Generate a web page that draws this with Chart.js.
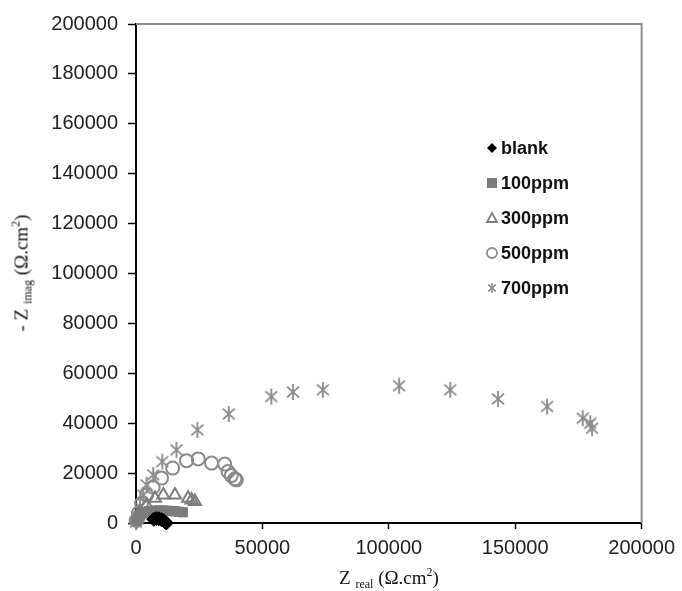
<!DOCTYPE html>
<html>
<head>
<meta charset="utf-8">
<script src="https://cdn.jsdelivr.net/npm/chart.js@4.4.1/dist/chart.umd.min.js"></script>
<style>
  body { margin: 0; background: #fff; }
  #wrap { position: relative; width: 682px; height: 591px; }
  .ttl { position: absolute; font-family: "Liberation Serif", "Times New Roman", serif; font-size: 19px; color: #111; white-space: nowrap; }
  .ttl sub { font-size: 12px; vertical-align: -4px; }
  .ttl sup { font-size: 12px; vertical-align: 8px; }
  #xTitle { left: 389px; top: 565px; transform: translateX(-50%); }
  #yTitle { left: 22px; top: 273px; transform: translate(-50%, -50%) rotate(-90deg); }
</style>
</head>
<body>
<div id="wrap">
  <canvas id="chart" width="682" height="591"></canvas>
  <div class="ttl" id="xTitle">Z <sub>real</sub> (Ω.cm<sup>2</sup>)</div>
  <div class="ttl" id="yTitle">- Z <sub>imag</sub> (Ω.cm<sup>2</sup>)</div>
</div>
<script>
// series labels
const seriesNames = ['blank', '100ppm', '300ppm', '500ppm', '700ppm'];

// blank
const blankX = [7000, 8000, 9000, 10000, 11000, 11500, 12000];
const blankY = [1500, 1800, 1700, 1400, 900, 400, 0];

// 100ppm
const p100X = [300, 800, 1500, 2500, 3500, 5000, 6500, 8000, 9500, 11000, 12500, 14000, 15500, 17000, 18500];
const p100Y = [800, 2000, 3000, 3800, 4300, 4700, 4900, 5000, 5000, 5000, 4900, 4800, 4700, 4500, 4300];

// 300ppm
const p300X = [200, 800, 1800, 4200, 7500, 10800, 15400, 20600, 22000, 23300];
const p300Y = [1200, 2800, 4500, 7200, 9900, 11200, 11200, 9900, 9200, 8600];

// 500ppm
const p500X = [100, 900, 2200, 4200, 6800, 10100, 14500, 20000, 24600, 29900, 35100, 36400, 37700, 39100, 39700];
const p500Y = [1000, 3900, 7900, 11200, 14300, 18000, 22000, 25000, 25700, 24000, 23600, 20600, 19000, 17700, 17300];

// 700ppm
const p700X = [0, 900, 1600, 2900, 4200, 6800, 10400, 16000, 24300, 36700, 53500, 62100, 73900, 104100, 124300, 143200, 162600, 176700, 179700, 180400];
const p700Y = [300, 2500, 6500, 11200, 15300, 19300, 24600, 29300, 37300, 43700, 50700, 52500, 53400, 55000, 53400, 49700, 46700, 42000, 40000, 38000];

// axis ticks
const xTicks = [0, 50000, 100000, 150000, 200000];
const yTicks = [0, 20000, 40000, 60000, 80000, 100000, 120000, 140000, 160000, 180000, 200000];

function pts(xs, ys) {
    return xs.map((x, i) => ({ x, y: ys[i] }));
}

// asterisk marker (vertical bar + X), drawn once to a small canvas
function makeStar(size, color, lw) {
    const c = document.createElement('canvas');
    c.width = size; c.height = size;
    const g = c.getContext('2d');
    g.strokeStyle = color;
    g.lineWidth = lw;
    const m = size / 2, r = size / 2 - 1;
    [90, 42, 138].forEach(a => {
        const dx = r * Math.cos(a * Math.PI / 180), dy = r * Math.sin(a * Math.PI / 180);
        g.beginPath();
        g.moveTo(m - dx, m - dy);
        g.lineTo(m + dx, m + dy);
        g.stroke();
    });
    return c;
}

const starBig = makeStar(18, '#8a8a8a', 1.8);
const starSmall = makeStar(12, '#8a8a8a', 1.5);

const styles = [
    { pointStyle: 'rectRot', radius: 7, bg: '#000', border: '#000', bw: 1 },
    { pointStyle: 'rect', radius: 6.5, bg: '#7b7b7b', border: '#7b7b7b', bw: 1 },
    { pointStyle: 'triangle', radius: 7, bg: 'rgba(0,0,0,0)', border: '#7d7d7d', bw: 2 },
    { pointStyle: 'circle', radius: 6.5, bg: 'rgba(0,0,0,0)', border: '#8a8a8a', bw: 2 },
    { pointStyle: starBig, radius: 9, bg: '#8a8a8a', border: '#8a8a8a', bw: 2 },
];

const allData = [pts(blankX, blankY), pts(p100X, p100Y), pts(p300X, p300Y), pts(p500X, p500Y), pts(p700X, p700Y)];

const datasets = allData.map((d, i) => ({
    label: seriesNames[i],
    data: d,
    pointStyle: styles[i].pointStyle,
    pointRadius: styles[i].radius,
    pointBackgroundColor: styles[i].bg,
    pointBorderColor: styles[i].border,
    pointBorderWidth: styles[i].bw,
    showLine: false,
    clip: false,
    order: i + 1,
}));

// gray frame on top and right
const framePlugin = {
    id: 'frame',
    beforeDatasetsDraw(chart) {
        const { ctx, chartArea: a } = chart;
        ctx.save();
        ctx.strokeStyle = '#8c8c8c';
        ctx.lineWidth = 2;
        ctx.beginPath();
        ctx.moveTo(a.left, a.top);
        ctx.lineTo(a.right, a.top);
        ctx.lineTo(a.right, a.bottom);
        ctx.stroke();
        ctx.restore();
    },
};

// legend inside the plot
function drawMarker(ctx, kind, x, y) {
    ctx.save();
    if (kind === 0) {
        ctx.fillStyle = '#000';
        ctx.beginPath();
        ctx.moveTo(x, y - 5); ctx.lineTo(x + 5, y); ctx.lineTo(x, y + 5); ctx.lineTo(x - 5, y);
        ctx.closePath(); ctx.fill();
    } else if (kind === 1) {
        ctx.fillStyle = '#7b7b7b';
        ctx.fillRect(x - 5, y - 5, 10, 10);
    } else if (kind === 2) {
        ctx.strokeStyle = '#7d7d7d'; ctx.lineWidth = 1.8;
        ctx.beginPath();
        ctx.moveTo(x, y - 5); ctx.lineTo(x + 5, y + 4); ctx.lineTo(x - 5, y + 4);
        ctx.closePath(); ctx.stroke();
    } else if (kind === 3) {
        ctx.strokeStyle = '#8a8a8a'; ctx.lineWidth = 1.8;
        ctx.beginPath(); ctx.arc(x, y, 5, 0, Math.PI * 2); ctx.stroke();
    } else {
        ctx.drawImage(starSmall, x - 6, y - 6);
    }
    ctx.restore();
}

const legendPlugin = {
    id: 'insideLegend',
    afterDraw(chart) {
        const { ctx, chartArea: a } = chart;
        const mx = a.left + 356, tx = a.left + 365;
        ctx.save();
        ctx.font = 'bold 18px "Liberation Sans", Arial, sans-serif';
        ctx.fillStyle = '#111';
        ctx.textBaseline = 'middle';
        seriesNames.forEach((name, i) => {
            const y = a.top + 124 + i * 35;
            drawMarker(ctx, i, mx, y);
            ctx.fillText(name, tx, y + 1);
        });
        ctx.restore();
    },
};

const tickFont = { family: '"Liberation Sans", Arial, sans-serif', size: 20 };

new Chart(document.getElementById('chart'), {
    type: 'scatter',
    data: { datasets },
    options: {
        responsive: false,
        animation: false,
        layout: { padding: { top: 24, right: 39, left: 0, bottom: 0 } },
        plugins: { legend: { display: false }, tooltip: { enabled: false } },
        scales: {
            x: {
                type: 'linear',
                min: 0,
                max: 200000,
                afterBuildTicks: s => { s.ticks = xTicks.map(v => ({ value: v })); },
                afterFit: s => { s.height = 68; },
                ticks: { color: '#222', font: tickFont, padding: 7, maxRotation: 0, callback: v => String(v) },
                grid: { drawOnChartArea: false, tickLength: 6, tickColor: '#000', tickWidth: 1.5 },
                border: { color: '#000', width: 2 },
            },
            y: {
                type: 'linear',
                min: 0,
                max: 200000,
                afterBuildTicks: s => { s.ticks = yTicks.map(v => ({ value: v })); },
                afterFit: s => { s.width = 136; },
                ticks: { color: '#222', font: tickFont, padding: 10, callback: v => String(v) },
                grid: { drawOnChartArea: false, tickLength: 8, tickColor: '#000', tickWidth: 1.5 },
                border: { color: '#000', width: 2 },
            },
        },
    },
    plugins: [framePlugin, legendPlugin],
});
</script>
</body>
</html>
